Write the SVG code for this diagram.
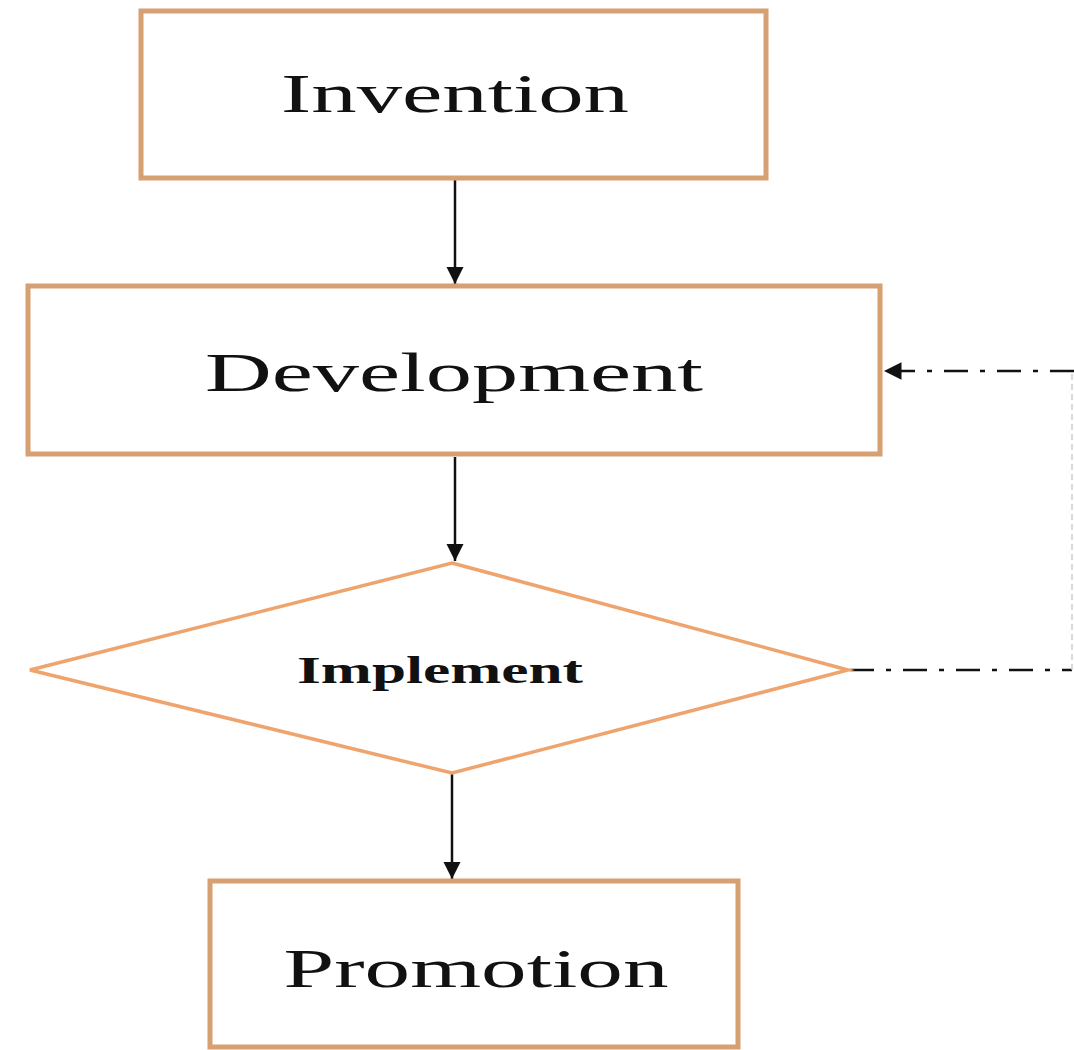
<svg xmlns="http://www.w3.org/2000/svg" width="1074" height="1050" viewBox="0 0 1074 1050">
<style>
.box{fill:#ffffff;stroke:#d6a072;stroke-width:5}
.dia{fill:#ffffff;stroke:#eea46c;stroke-width:3.5}
.lbl{font-family:"Liberation Serif","Times New Roman",serif;fill:#111;text-anchor:middle}
.big{font-size:55px}
.small{font-size:37px;font-weight:bold}
.arr{stroke:#111;stroke-width:2.5;fill:none}
.dd{stroke:#111;stroke-width:2.5;fill:none;stroke-dasharray:24 12 5 12}
</style>
<defs>
<marker id="ah2" viewBox="0 0 10 10" refX="10" refY="5" markerWidth="7" markerHeight="7" orient="auto">
<path d="M0,0 L10,5 L0,10 z" fill="#111"/>
</marker>
</defs>
<rect width="1074" height="1050" fill="#ffffff"/>
<g id="connectors">
<line class="arr" x1="455" y1="180" x2="455" y2="284" marker-end="url(#ah2)"/>
<line class="arr" x1="455" y1="457" x2="455" y2="561" marker-end="url(#ah2)"/>
<line class="arr" x1="452" y1="774" x2="452" y2="879" marker-end="url(#ah2)"/>
<polyline class="dd" points="850,670 1072,670"/>
<line x1="1072" y1="670" x2="1072" y2="372" stroke="#d0d0d0" stroke-width="1.5" stroke-dasharray="6 4"/>
<line class="dd" x1="1074" y1="371" x2="884" y2="371" marker-end="url(#ah2)"/>
</g>
<g id="invention">
<rect class="box" x="141" y="11" width="625" height="167"/>
<text class="lbl big" x="455" y="112" textLength="348" lengthAdjust="spacingAndGlyphs">Invention</text>
</g>
<g id="development">
<rect class="box" x="28" y="286" width="852" height="168"/>
<text class="lbl big" x="454" y="391" textLength="498" lengthAdjust="spacingAndGlyphs">Development</text>
</g>
<g id="implement">
<polygon class="dia" points="452,563 848,670 452,773 30,670"/>
<text class="lbl small" x="440" y="683" textLength="286" lengthAdjust="spacingAndGlyphs">Implement</text>
</g>
<g id="promotion">
<rect class="box" x="210" y="881" width="528" height="166"/>
<text class="lbl big" x="476" y="987" textLength="385" lengthAdjust="spacingAndGlyphs">Promotion</text>
</g>
</svg>
